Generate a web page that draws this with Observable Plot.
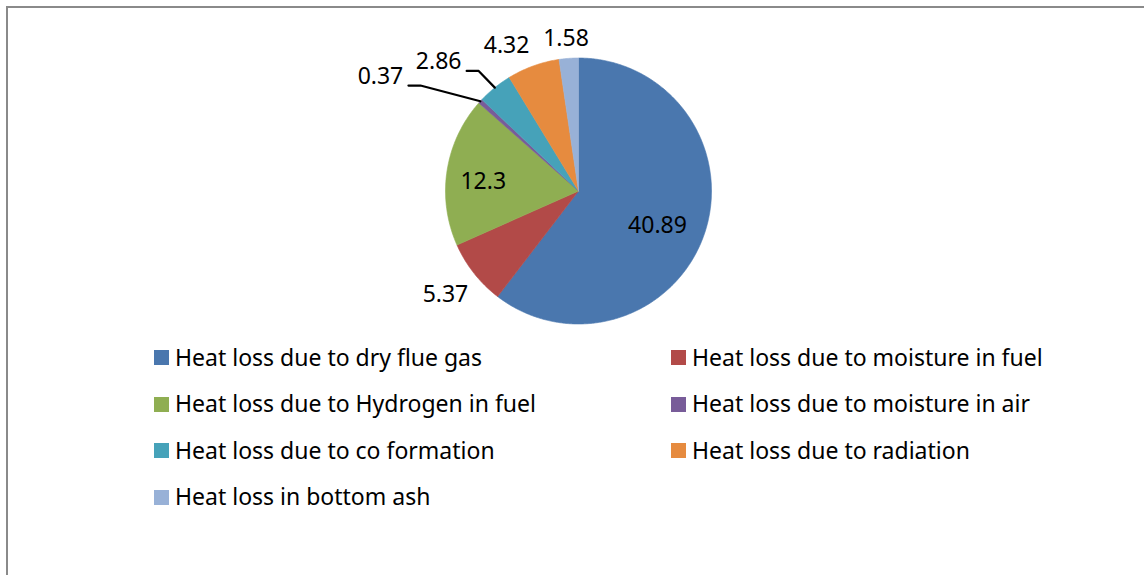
<!DOCTYPE html>
<html>
<head>
<meta charset="utf-8">
<script src="https://cdn.jsdelivr.net/npm/d3@7"></script>
<script src="https://cdn.jsdelivr.net/npm/@observablehq/plot@0.6"></script>
<style>
  html, body { margin: 0; padding: 0; background: #fff; }
  body { width: 1144px; height: 575px; overflow: hidden; position: relative; font-family: "Noto Sans", sans-serif; }
  #frame { position: absolute; left: 6px; top: 6px; width: 1160px; height: 600px;
           border-left: 2px solid #8a8a8a; border-top: 2px solid #8a8a8a; box-sizing: border-box; }
  #chart { position: absolute; left: 0; top: 0; }
  #legend { position: absolute; left: 154px; top: 333.5px; display: grid;
            grid-template-columns: 517px 480px; grid-auto-rows: 46.5px; }
  .item { display: flex; align-items: center; font-size: 23px; color: #000; white-space: nowrap; }
  .sw { width: 15px; height: 15px; margin-right: 6px; position: relative; top: 1px; flex: none; }
</style>
</head>
<body>
<div id="frame"></div>
<div id="chart"></div>
<div id="legend"></div>
<script>
// ---- data ----
const categories = [
  "Heat loss due to dry flue gas",
  "Heat loss due to moisture in fuel",
  "Heat loss due to Hydrogen in fuel",
  "Heat loss due to moisture in air",
  "Heat loss due to co formation",
  "Heat loss due to radiation",
  "Heat loss in bottom ash"
];
const values = [40.89, 5.37, 12.3, 0.37, 2.86, 4.32, 1.58];
const valueLabels = ["40.89", "5.37", "12.3", "0.37", "2.86", "4.32", "1.58"];
const colors = ["#4a77ae", "#b24a48", "#8fae52", "#785c99", "#46a2b9", "#e68b3f", "#98b1d7"];

// ---- layout (label placement relative to the slice, in radius units / degrees) ----
const labelRadius = [0.648, 1.267, 0.72, 1.72, 1.431, 1.217, 1.147];
const labelAngleShift = [4.9, 0.4, -3, -12.4, -8.3, -6.5, -0.5];
const hasLeader = [false, false, false, true, true, false, false];

const W = 1144, H = 340, R = 133, CX = 578, CY = 190.5;

const arcs = d3.pie().sort(null).value(d => d)(values);

// slice outlines
const slicePts = [];
arcs.forEach((a, i) => {
  const name = categories[i];
  slicePts.push({name, x: 0, y: 0});
  const n = Math.max(2, Math.ceil((a.endAngle - a.startAngle) / (Math.PI / 360)));
  for (let k = 0; k <= n; k++) {
    const t = a.startAngle + (a.endAngle - a.startAngle) * k / n;
    slicePts.push({name, x: Math.sin(t), y: Math.cos(t)});
  }
  slicePts.push({name, x: 0, y: 0});
});

// labels
const labels = arcs.map((a, i) => {
  const mid = (a.startAngle + a.endAngle) / 2 + labelAngleShift[i] * Math.PI / 180;
  return {text: valueLabels[i], x: labelRadius[i] * Math.sin(mid), y: labelRadius[i] * Math.cos(mid), i};
});

// leader lines
const leaders = [];
arcs.forEach((a, i) => {
  if (!hasLeader[i]) return;
  const L = labels[i];
  const mid = (a.startAngle + a.endAngle) / 2;
  leaders.push({k: i, x: L.x + 28 / R, y: L.y - 9 / R});
  leaders.push({k: i, x: L.x + 40 / R, y: L.y - 9 / R});
  leaders.push({k: i, x: Math.sin(mid), y: Math.cos(mid)});
});

const chart = Plot.plot({
  width: W, height: H, margin: 0,
  style: {background: "transparent", overflow: "visible"},
  x: {domain: [-CX / R, (W - CX) / R], axis: null},
  y: {domain: [-(H - CY) / R, CY / R], axis: null},
  color: {domain: categories, range: colors},
  marks: [
    Plot.line(slicePts, {x: "x", y: "y", z: "name", fill: "name", stroke: "name", strokeWidth: 0.6, curve: "linear"}),
    Plot.line(leaders, {x: "x", y: "y", z: "k", stroke: "#000", strokeWidth: 2.2, curve: "linear"}),
    Plot.text(labels, {x: "x", y: "y", text: "text", fontSize: 23, fontFamily: "Noto Sans", fill: "#000", textAnchor: "middle"})
  ]
});
document.getElementById("chart").appendChild(chart);

// legend
const lg = document.getElementById("legend");
categories.forEach((c, i) => {
  const it = document.createElement("div");
  it.className = "item";
  const sw = document.createElement("span");
  sw.className = "sw";
  sw.style.background = colors[i];
  it.appendChild(sw);
  it.appendChild(document.createTextNode(c));
  lg.appendChild(it);
});
</script>
</body>
</html>
